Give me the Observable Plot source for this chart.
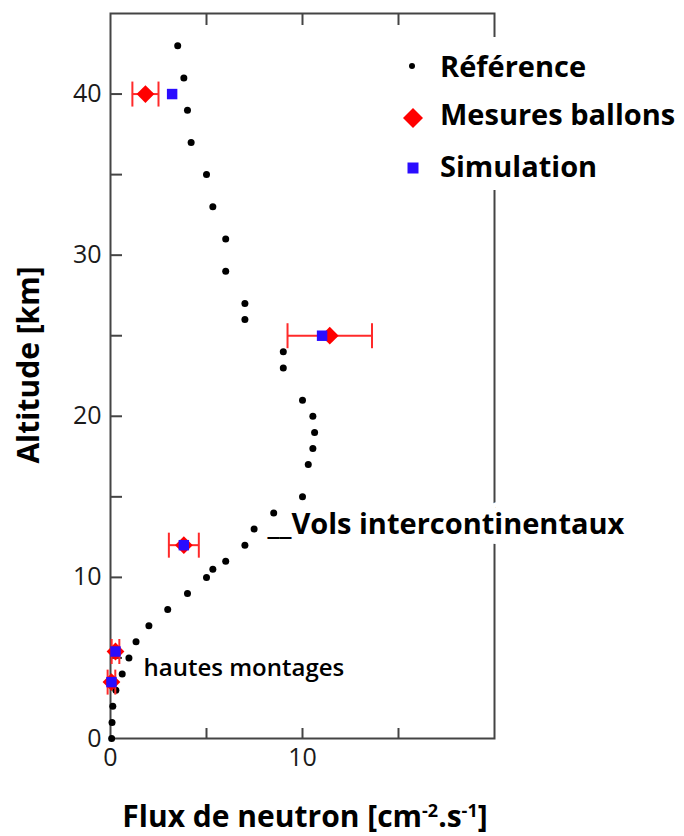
<!DOCTYPE html>
<html>
<head>
<meta charset="utf-8">
<script src="https://cdn.jsdelivr.net/npm/d3@7"></script>
<script src="https://cdn.jsdelivr.net/npm/@observablehq/plot@0.6"></script>
<style>
  body { margin: 0; background: #fff; font-family: "Open Sans", sans-serif; }
  #wrap { position: relative; width: 684px; height: 836px; overflow: hidden; }
  #legend { position: absolute; left: 400px; top: 37px; width: 284px; height: 153px; background: #fff; }
  #xtitle { position: absolute; left: 0; top: 790px; width: 610px; height: 46px; text-align: center;
            font-size: 30px; font-weight: bold; line-height: 46px; padding-top: 3px; color: #000; }
  #xtitle sup { font-size: 0.6em; vertical-align: 0.55em; line-height: 0; }
</style>
</head>
<body>
<div id="wrap">
  <div id="chart"></div>
  <div id="legend"></div>
  <div id="xtitle">Flux de neutron [cm<sup>-2</sup>.s<sup>-1</sup>]</div>
</div>
<script>
// Reference curve (black dots)
const refAlt  = [43, 41, 39, 37, 35, 33, 31, 29, 27, 26, 24, 23, 21, 20, 19, 18, 17, 15, 14, 13, 12, 11, 10.5, 10, 9, 8, 7, 6, 5, 4, 3, 2, 1, 0];
const refFlux = [3.5, 3.82, 4.01, 4.2, 5.0, 5.33, 6.0, 6.0, 7.0, 7.0, 9.0, 9.0, 10.0, 10.54, 10.63, 10.54, 10.3, 10.0, 8.5, 7.48, 7.0, 6.0, 5.33, 5.0, 4.01, 2.98, 2.0, 1.33, 0.96, 0.61, 0.28, 0.12, 0.08, 0.06];
// Balloon measurements (red diamonds) with horizontal error
const measAlt  = [40, 25, 12, 5.4, 3.5];
const measFlux = [1.82, 11.42, 3.82, 0.26, 0.05];
const measErr  = [0.68, 2.2, 0.78, 0.2, 0.2];
// Simulation (blue squares)
const simAlt  = [40, 25, 12, 5.4, 3.5];
const simFlux = [3.21, 11.02, 3.82, 0.26, 0.05];
// Axis ticks
const yTickLabels = [0, 10, 20, 30, 40];
const yTicks = [5, 10, 15, 20, 25, 30, 35, 40];
const xTickLabels = [0, 10];
const xTicks = [5, 10, 15];
// Annotations
const annotHalo = [{flux: 8.18, alt: 13.28, label: "__Vols intercontinentaux"}];
const annotPlain = [{flux: 1.72, alt: 4.35, label: "hautes montages"}];
// Legend
const legendLabels = ["Référence", "Mesures ballons", "Simulation"];

const ref = refAlt.map((a, i) => ({alt: a, flux: refFlux[i]}));
const meas = measAlt.map((a, i) => ({alt: a, flux: measFlux[i], lo: measFlux[i] - measErr[i], hi: measFlux[i] + measErr[i]}));
const sim = simAlt.map((a, i) => ({alt: a, flux: simFlux[i]}));

const RED = "#ff0000", BAR = "#ff2a2a", BLUE = "#2a0cff", AX = "#444";
const capSymbol = {draw(ctx, size) { const h = Math.sqrt(size / Math.PI); ctx.moveTo(0, -h); ctx.lineTo(0, h); }};

const W = 684, H = 790, ML = 110, MR = 190, MT = 13, MB = 52;
const FW = W - ML - MR, FH = H - MT - MB;

const chart = Plot.plot({
  width: W, height: H,
  marginLeft: ML, marginRight: MR, marginTop: MT, marginBottom: MB,
  x: {domain: [0, 20], axis: null},
  y: {domain: [0, 45], axis: null},
  style: {fontFamily: "Open Sans", background: "white", overflow: "visible"},
  marks: [
    Plot.frame({stroke: AX, strokeWidth: 2}),
    Plot.ruleY(yTicks, {y: d => d, stroke: AX, strokeWidth: 2, insetRight: FW - 12}),
    Plot.ruleX(xTicks, {x: d => d, stroke: AX, strokeWidth: 2, insetTop: FH - 10}),
    Plot.ruleX(xTicks, {x: d => d, stroke: AX, strokeWidth: 2, insetBottom: FH - 12}),
    Plot.text(yTickLabels, {y: d => d, text: d => String(d), frameAnchor: "left", textAnchor: "end", dx: -9, fontSize: 25, fill: "#1a1a1a"}),
    Plot.text(xTickLabels, {x: d => d, text: d => String(d), frameAnchor: "bottom", dy: 27, fontSize: 25, fill: "#1a1a1a"}),
    Plot.text(["Altitude [km]"], {text: d => d, frameAnchor: "left", textAnchor: "middle", dx: -81, dy: -11, rotate: -90, fontSize: 30, fontWeight: "bold", fill: "#000"}),
    Plot.text(annotHalo, {x: "flux", y: "alt", text: "label", textAnchor: "start", fontSize: 29, fontWeight: "bold", fill: "#000", stroke: "white", strokeWidth: 20, strokeLinejoin: "round"}),
    Plot.text(annotPlain, {x: "flux", y: "alt", text: "label", textAnchor: "start", fontSize: 24, fontWeight: 600, fill: "#000"}),
    Plot.dot(ref, {x: "flux", y: "alt", r: 3.5, fill: "#000", stroke: "none"}),
    Plot.ruleY(meas, {y: "alt", x1: "lo", x2: "hi", stroke: BAR, strokeWidth: 2}),
    Plot.dot(meas, {x: "lo", y: "alt", symbol: capSymbol, r: 12.5, stroke: BAR, strokeWidth: 2, fill: "none"}),
    Plot.dot(meas, {x: "hi", y: "alt", symbol: capSymbol, r: 12.5, stroke: BAR, strokeWidth: 2, fill: "none"}),
    Plot.dot(meas, {x: "flux", y: "alt", symbol: "diamond2", r: 8, fill: RED, stroke: "none"}),
    Plot.dot(sim, {x: "flux", y: "alt", symbol: "square", r: 5.9, fill: BLUE, stroke: "none"})
  ]
});
document.getElementById("chart").appendChild(chart);

// Legend (overlay with white background)
const lg = d3.select("#legend").append("svg").attr("width", 284).attr("height", 153);
const rowsMarkerY = [29, 81, 131];
const rowsTextY = [40, 88, 140];
lg.append("circle").attr("cx", 12).attr("cy", rowsMarkerY[0]).attr("r", 3).attr("fill", "#000");
lg.append("path").attr("d", d3.symbol(d3.symbolDiamond2, 255)()).attr("transform", `translate(13,${rowsMarkerY[1]})`).attr("fill", RED);
lg.append("path").attr("d", d3.symbol(d3.symbolSquare, 121)()).attr("transform", `translate(13,${rowsMarkerY[2]})`).attr("fill", BLUE);
lg.selectAll("text.l").data(legendLabels).join("text")
  .attr("x", 40).attr("y", (d, i) => rowsTextY[i])
  .attr("font-family", "Open Sans").attr("font-size", 29).attr("font-weight", "bold").attr("fill", "#000")
  .text(d => d);
</script>
</body>
</html>
